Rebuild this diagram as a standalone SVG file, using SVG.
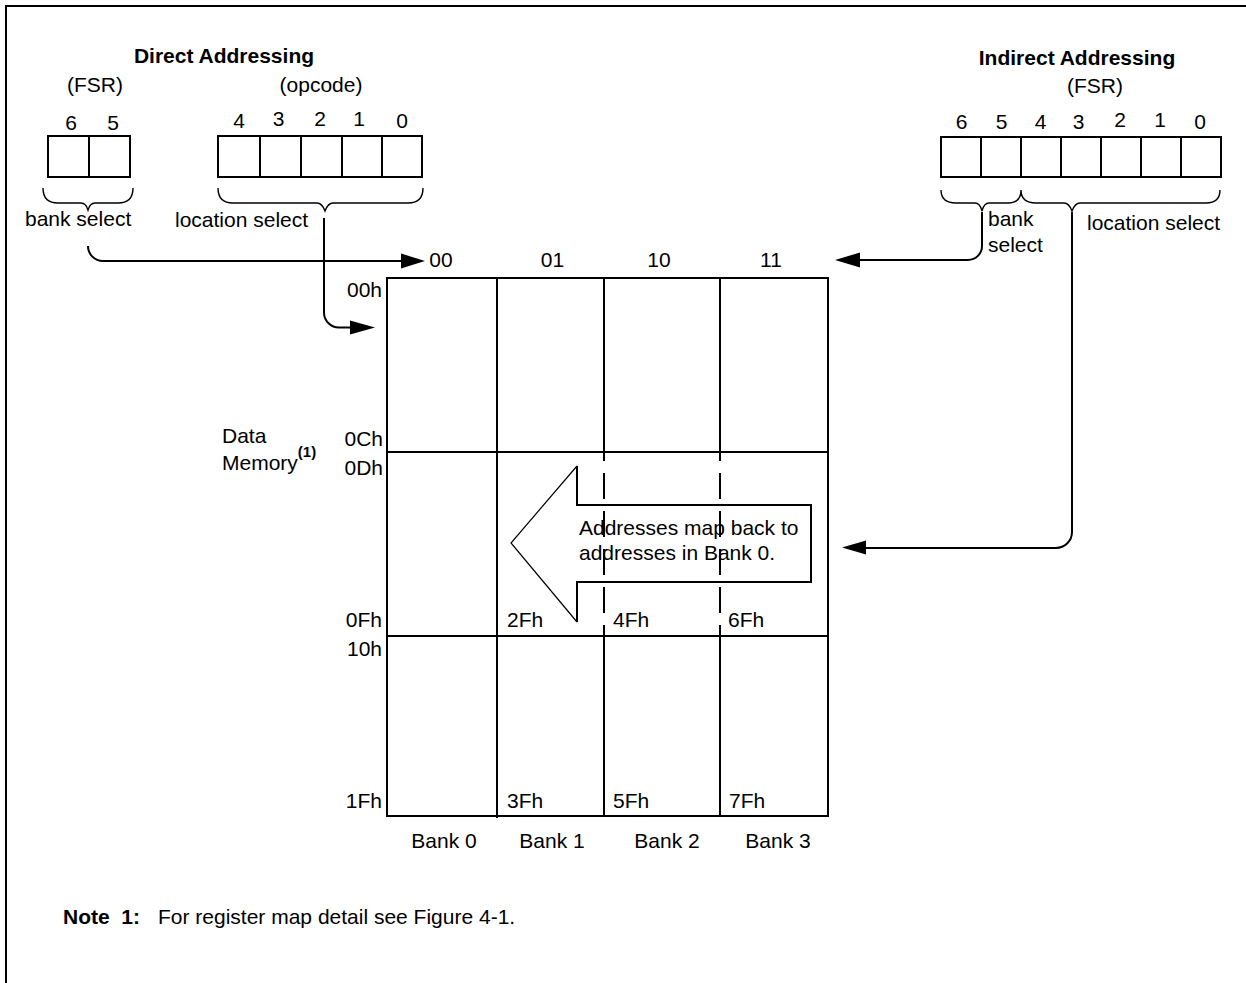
<svg xmlns="http://www.w3.org/2000/svg" width="1246" height="983" viewBox="0 0 1246 983">
<style>
text{font-family:"Liberation Sans",Arial,sans-serif;font-size:21px;fill:#000}
.b{font-weight:bold}
.m{text-anchor:middle}
.e{text-anchor:end}
.box{fill:none;stroke:#000;stroke-width:2}
.ln{fill:none;stroke:#000;stroke-width:2}
.br{fill:none;stroke:#000;stroke-width:1.4}
.dash{fill:none;stroke:#000;stroke-width:2;stroke-dasharray:26 12;stroke-dashoffset:17}
.ah{fill:#000;stroke:none}
</style>
<rect width="1246" height="983" fill="#fff"/>
<path d="M6,983 V6 H1246" class="ln"/>

<g id="direct">
<text class="b m" x="224" y="63">Direct Addressing</text>
<text class="m" x="95" y="92">(FSR)</text>
<text class="m" x="321" y="92">(opcode)</text>
<g id="direct-fsr">
<rect class="box" x="48" y="136" width="82" height="41"/>
<line class="ln" x1="89" y1="136" x2="89" y2="177"/>
<text class="m" x="71" y="130">6</text>
<text class="m" x="113" y="130">5</text>
</g>
<g id="direct-opcode">
<rect class="box" x="218" y="136" width="204" height="41"/>
<path class="ln" d="M260,136V177M301,136V177M342,136V177M382,136V177"/>
<text class="m" x="239" y="128">4</text>
<text class="m" x="278.5" y="126">3</text>
<text class="m" x="320" y="126">2</text>
<text class="m" x="359" y="126">1</text>
<text class="m" x="402" y="128">0</text>
</g>
<path class="br" d="M43,188 Q43,203 58,203 H81 Q86,203 88,210 Q90,203 95,203 H118 Q133,203 133,188"/>
<path class="br" d="M218,188 Q218,203 233,203 H317 Q322,203 325,211 Q328,203 333,203 H408 Q423,203 423,188"/>
<text x="25" y="226">bank select</text>
<text x="175" y="227">location select</text>
</g>

<g id="indirect">
<text class="b m" x="1077" y="65">Indirect Addressing</text>
<text class="m" x="1095" y="93">(FSR)</text>
<rect class="box" x="941" y="137" width="280" height="40"/>
<path class="ln" d="M981,137V177M1021,137V177M1061,137V177M1101,137V177M1141,137V177M1181,137V177"/>
<text class="m" x="961.5" y="128.5">6</text>
<text class="m" x="1001.5" y="128.5">5</text>
<text class="m" x="1040.5" y="128.5">4</text>
<text class="m" x="1078.5" y="128.5">3</text>
<text class="m" x="1120" y="127">2</text>
<text class="m" x="1160" y="127">1</text>
<text class="m" x="1200" y="128.5">0</text>
<path class="br" d="M941,190 Q941,203 956,203 H975 Q980,203 982,211 Q984,203 989,203 H1008 Q1021,203 1021,190 Q1021,203 1036,203 H1064 Q1069,203 1072,211 Q1075,203 1080,203 H1206 Q1220,203 1220,190"/>
<text x="988" y="226">bank</text>
<text x="988" y="252">select</text>
<text x="1087" y="230">location select</text>
</g>

<g id="memory">
<rect class="box" x="387" y="278" width="441" height="538"/>
<path class="ln" d="M387,452H828M387,636H828M497,278V818M604,278V452M720,278V452M604,636V816M720,636V816"/>
<path class="dash" d="M604,452V636M720,452V636"/>
<text class="m" x="441" y="267">00</text>
<text class="m" x="552.5" y="267">01</text>
<text class="m" x="659" y="267">10</text>
<text class="m" x="771" y="267">11</text>
<text class="e" x="382" y="297">00h</text>
<text class="e" x="383" y="446">0Ch</text>
<text class="e" x="383" y="475">0Dh</text>
<text class="e" x="382" y="627">0Fh</text>
<text class="e" x="382" y="656">10h</text>
<text class="e" x="382" y="808">1Fh</text>
<text x="507" y="627">2Fh</text>
<text x="613" y="627">4Fh</text>
<text x="728" y="627">6Fh</text>
<text x="507" y="808">3Fh</text>
<text x="613" y="808">5Fh</text>
<text x="729" y="808">7Fh</text>
<text class="m" x="444" y="848">Bank 0</text>
<text class="m" x="552" y="848">Bank 1</text>
<text class="m" x="667" y="848">Bank 2</text>
<text class="m" x="778" y="848">Bank 3</text>
<text x="222" y="443">Data</text>
<text x="222" y="470">Memory<tspan class="b" style="font-size:15px" dy="-13">(1)</tspan></text>
</g>

<g id="map-back-arrow">
<path d="M577,466 L511,543 L577,622" fill="none" stroke="#000" stroke-width="1.2"/>
<path d="M577,466 V505 H811 V582 H577 V622" fill="none" stroke="#000" stroke-width="2"/>
<text x="579" y="535">Addresses map back to</text>
<text x="579" y="560">addresses in Bank 0.</text>
</g>

<g id="connectors">
<path class="ln" d="M88,246 A15,15 0 0 0 103,261 H404"/>
<polygon class="ah" points="401,253.5 425,261 401,268.5"/>
<path class="ln" d="M324,218 V313 A15,15 0 0 0 339,327.5 H352"/>
<polygon class="ah" points="350,320.5 375,327.5 350,334.5"/>
<path class="ln" d="M982,212 V246 A14,14 0 0 1 968,260 H858"/>
<polygon class="ah" points="860,252.5 835,260 860,267.5"/>
<path class="ln" d="M1072,212 V532 A16,16 0 0 1 1056,548 H864"/>
<polygon class="ah" points="866,540.5 842,547.5 866,554.5"/>
</g>

<g id="note">
<text class="b" x="63" y="924" xml:space="preserve">Note  1:</text>
<text x="158" y="924">For register map detail see Figure 4-1.</text>
</g>
</svg>
